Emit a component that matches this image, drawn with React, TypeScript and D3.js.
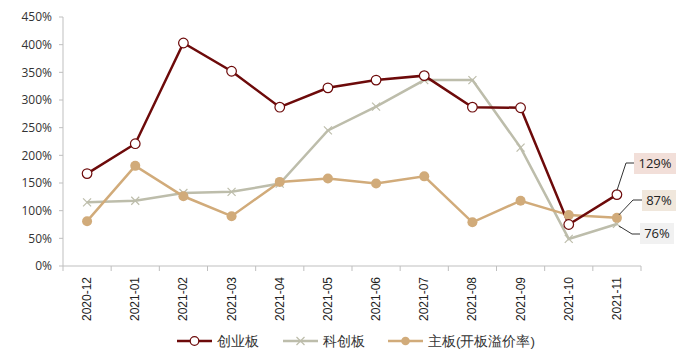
import React from "react";
import * as d3 from "d3";

const categories = ["2020-12","2021-01","2021-02","2021-03","2021-04","2021-05","2021-06","2021-07","2021-08","2021-09","2021-10","2021-11"];
const chinext = [167, 221, 403, 352, 287, 322, 336, 344, 287, 286, 75, 129];
const star = [115, 118, 132, 134, 149, 245, 288, 336, 336, 214, 49, 76];
const mainBoard = [81, 181, 126, 90, 152, 158, 149, 162, 79, 118, 92, 87];
const yTicks = [0, 50, 100, 150, 200, 250, 300, 350, 400, 450];
const seriesNames = ["创业板", "科创板", "主板(开板溢价率)"];

const RED = "#6d0a0a";
const GREY = "#bdbdab";
const TAN = "#d1ab7a";

export default function App() {
  const W = 700, H = 358;
  const left = 63, right = 641, top = 17, bottom = 266;
  const x = d3.scaleBand<string>().domain(categories).range([left, right]);
  const y = d3.scaleLinear().domain([0, 450]).range([bottom, top]);
  const cx = (c: string) => (x(c) as number) + x.bandwidth() / 2;
  const line = (vals: number[]) =>
    d3.line<number>().x((_, i) => cx(categories[i])).y((v) => y(v))(vals) as string;

  const last = categories[categories.length - 1];
  const lx = cx(last);

  const cross = (px: number, py: number, k: string) => (
    <path key={k} d={`M${px - 4},${py - 4}L${px + 4},${py + 4}M${px - 4},${py + 4}L${px + 4},${py - 4}`} stroke={GREY} strokeWidth={1.2} />
  );

  const labels = [
    { text: "129%", bx: 634, by: 153, w: 42, fill: "#f2dfd9", path: `M${lx},${y(chinext[11]) - 4}L${626},${163}L${634},${163}` },
    { text: "87%", bx: 642, by: 190, w: 34, fill: "#f0e7dc", path: `M${lx + 2},${y(mainBoard[11]) - 3}L${633},${200}L${642},${200}` },
    { text: "76%", bx: 640, by: 223, w: 34, fill: "#f1f1f1", path: `M${lx + 2},${y(star[11]) + 2}L${632},${234}L${640},${234}` },
  ];

  const ly = 341;
  const legend = [
    { x0: 177, color: RED, kind: "open", name: seriesNames[0] },
    { x0: 283, color: GREY, kind: "cross", name: seriesNames[1] },
    { x0: 388, color: TAN, kind: "dot", name: seriesNames[2] },
  ];

  return (
    <svg width={W} height={H} style={{ position: "absolute", left: 0, top: 0, background: "#fff" }} fontFamily="'Liberation Sans', Arial, sans-serif">
      {/* y axis */}
      <line x1={left} x2={left} y1={top} y2={bottom} stroke="#bfbfbf" />
      {yTicks.map((t) => (
        <g key={t}>
          <line x1={left - 4} x2={left} y1={y(t)} y2={y(t)} stroke="#bfbfbf" />
          <text x={52} y={y(t)} dy="0.35em" textAnchor="end" fontSize={12} fill="#333" fontFamily="'Open Sans', 'Liberation Sans', sans-serif">{t}%</text>
        </g>
      ))}
      {/* x axis */}
      <line x1={left} x2={right} y1={bottom} y2={bottom} stroke="#bfbfbf" />
      {[...categories.map((c) => x(c) as number), right].map((px, i) => (
        <line key={i} x1={px} x2={px} y1={bottom} y2={bottom + 5} stroke="#bfbfbf" />
      ))}
      {categories.map((c) => (
        <text key={c} transform={`translate(${cx(c) + 4},${277}) rotate(-90)`} textAnchor="end" fontSize={12} fill="#222">{c}</text>
      ))}

      {/* series lines */}
      <path d={line(star)} fill="none" stroke={GREY} strokeWidth={2.5} />
      <path d={line(mainBoard)} fill="none" stroke={TAN} strokeWidth={2.5} />
      <path d={line(chinext)} fill="none" stroke={RED} strokeWidth={2.5} />

      {star.map((v, i) => cross(cx(categories[i]), y(v), "s" + i))}
      {mainBoard.map((v, i) => (
        <circle key={"m" + i} cx={cx(categories[i])} cy={y(v)} r={5} fill={TAN} />
      ))}
      {chinext.map((v, i) => (
        <circle key={"c" + i} cx={cx(categories[i])} cy={y(v)} r={4.8} fill="#fff" stroke={RED} strokeWidth={1.2} />
      ))}

      {/* end labels */}
      {labels.map((l) => (
        <g key={l.text}>
          <path d={l.path} fill="none" stroke="#333" strokeWidth={1} />
          <rect x={l.bx} y={l.by} width={l.w} height={21} fill={l.fill} />
          <text x={l.bx + l.w / 2} y={l.by + 10.5} dy="0.35em" textAnchor="middle" fontSize={13} fill="#222" fontFamily="'Open Sans', 'Liberation Sans', sans-serif">{l.text}</text>
        </g>
      ))}

      {/* legend */}
      <g fontSize={13.5} fill="#333">
        {legend.map((l) => (
          <g key={l.name}>
            <line x1={l.x0} x2={l.x0 + 35} y1={ly} y2={ly} stroke={l.color} strokeWidth={2.5} />
            {l.kind === "open" && <circle cx={l.x0 + 17.5} cy={ly} r={4.3} fill="#fff" stroke={RED} strokeWidth={1.2} />}
            {l.kind === "cross" && cross(l.x0 + 17.5, ly, "lg")}
            {l.kind === "dot" && <circle cx={l.x0 + 17.5} cy={ly} r={4.3} fill={TAN} />}
            <text x={l.x0 + 40} y={ly} dy="0.35em">{l.name}</text>
          </g>
        ))}
      </g>
    </svg>
  );
}
